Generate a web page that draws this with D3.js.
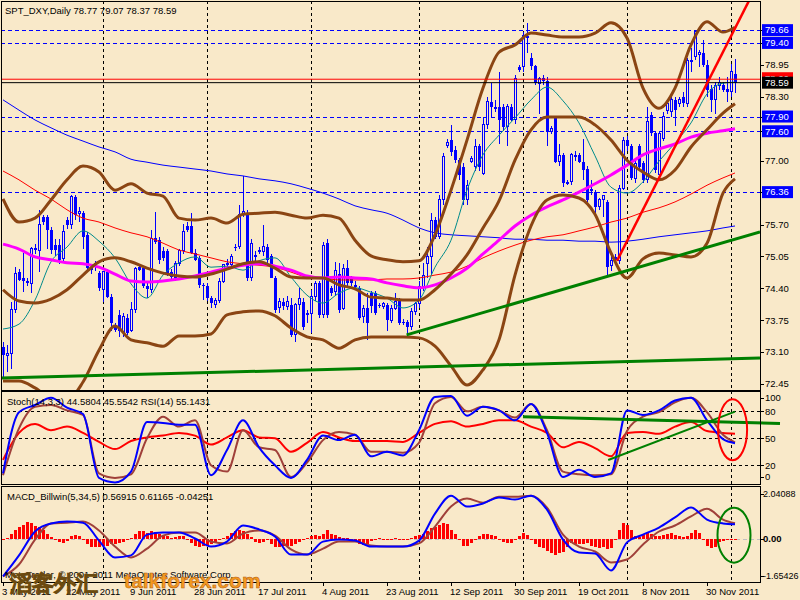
<!DOCTYPE html>
<html><head><meta charset="utf-8">
<script src="https://cdn.jsdelivr.net/npm/d3@7"></script>
<style>
body{margin:0;background:#F9E9C9;}
svg{display:block;}
text{font-family:"Liberation Sans",Arial,sans-serif;}
</style>
</head><body>
<svg id="c" width="800" height="600"></svg>
<script>
// ---------------- DATA ----------------
const chartTitle = "SPT_DXY,Daily";
const lastOHLC = [78.77, 79.07, 78.37, 78.59];
const firstDate = [2011, 4, 3]; // 3 May 2011, daily bars, Saturdays skipped

const opens = [73.21,73.04,73.08,73.96,74.74,74.61,74.54,74.50,75.22,75.18,75.86,75.86,75.59,75.29,75.29,75.01,75.79,75.69,76.27,75.93,
75.93,75.49,74.84,74.84,74.71,74.37,74.74,74.23,73.62,73.86,73.49,73.80,73.55,73.96,74.84,74.81,74.44,74.37,75.42,75.39,
75.15,75.15,74.74,74.61,74.91,75.18,75.66,75.66,75.12,75.01,74.47,74.44,74.20,74.06,74.16,74.54,74.88,74.88,75.25,75.25,
75.93,75.93,74.61,75.08,75.15,75.15,75.25,75.05,74.61,74.00,74.13,74.03,74.06,73.45,74.06,74.13,73.89,73.89,74.23,74.50,
73.86,75.32,74.40,74.33,74.70,73.99,74.81,74.60,74.46,74.40,73.82,73.99,74.30,74.30,74.06,74.03,74.06,73.75,73.99,74.16,
73.72,73.72,73.62,73.92,74.09,74.43,74.91,75.04,75.79,75.45,76.20,77.30,77.42,77.22,77.01,76.88,76.20,76.98,76.88,77.29,
76.74,77.73,78.20,78.10,78.10,78.10,77.69,78.10,77.83,78.90,78.92,79.55,79.09,78.92,78.58,78.68,78.63,77.59,77.86,76.98,
77.12,76.55,76.57,77.12,77.12,76.98,76.84,76.40,76.37,76.06,76.20,76.16,74.87,75.04,74.97,76.44,77.42,77.29,76.64,77.29,
76.95,76.61,77.93,77.56,76.71,77.46,78.03,78.00,78.24,78.17,78.30,78.17,79.05,79.12,79.17,79.19,78.95,78.47,78.24,78.54,
78.54,78.47,78.40,78.77];
const highs = [73.30,73.25,74.13,74.84,74.80,75.12,74.62,75.25,75.30,76.00,75.90,75.90,75.65,75.40,75.40,75.70,75.85,76.30,76.30,76.05,
75.97,75.55,74.90,74.95,74.75,74.75,74.80,74.28,73.70,73.95,73.90,73.88,74.13,74.84,74.90,74.85,74.50,75.59,75.96,75.45,
75.25,75.20,74.80,74.95,75.20,75.72,75.75,75.93,75.20,75.05,74.50,74.50,74.25,74.20,74.60,74.90,75.00,75.10,75.30,76.10,
76.69,76.00,75.40,75.15,75.25,75.69,75.30,75.10,74.65,74.20,74.20,74.25,74.20,74.10,74.40,74.20,73.95,74.37,74.55,74.55,
75.35,75.40,74.45,74.94,74.91,74.90,74.98,74.65,74.55,74.45,74.05,74.30,74.35,74.35,74.10,74.12,74.10,74.05,74.30,74.20,
73.78,73.75,73.99,74.12,74.55,74.91,75.25,75.93,75.85,76.30,77.15,77.45,77.73,77.30,77.05,76.95,76.60,77.10,77.45,77.35,
77.90,78.30,78.58,78.24,78.81,78.15,78.15,78.15,78.75,78.95,79.62,79.80,79.20,78.95,78.70,78.75,78.70,77.70,77.90,77.35,
77.15,76.60,77.15,77.20,77.15,77.45,76.90,76.60,76.40,76.25,76.30,76.20,75.05,75.10,76.50,77.48,77.50,77.35,77.05,77.35,
77.00,78.10,78.00,77.60,77.60,78.00,78.20,78.34,78.30,78.30,78.40,79.10,79.30,79.67,79.25,79.46,79.05,78.55,78.60,78.70,
78.60,78.71,78.98,79.07];
const lows = [72.60,72.70,72.75,73.90,74.55,74.33,74.45,74.30,75.10,74.74,75.70,75.20,75.10,75.05,74.90,74.95,75.60,75.60,75.80,75.75,
75.20,74.75,74.70,74.75,74.35,74.13,74.20,73.52,73.50,73.40,73.40,73.45,73.50,73.90,74.75,74.40,74.20,74.30,75.30,74.90,
74.95,74.65,74.55,74.55,74.85,75.10,75.55,75.10,74.95,74.40,74.16,74.15,74.00,74.00,74.10,74.50,74.80,74.80,75.15,75.20,
75.85,74.55,74.55,74.95,75.10,75.05,74.90,74.60,73.90,73.90,73.95,73.95,73.40,73.30,73.95,73.55,73.70,73.48,74.15,73.80,
73.80,73.80,74.25,74.25,73.90,73.95,74.45,74.45,74.40,73.75,73.69,73.35,73.90,73.85,74.00,73.98,73.52,73.70,73.95,73.65,
73.65,73.45,73.55,73.85,74.00,74.35,74.60,74.67,75.40,75.40,76.10,77.25,77.10,76.95,76.60,76.10,76.10,76.95,76.80,76.80,
76.70,77.65,77.90,78.00,77.35,77.60,77.30,77.80,77.75,78.80,78.80,79.20,78.85,78.55,77.95,78.55,77.30,77.55,76.95,76.90,
76.46,76.50,76.50,77.00,76.95,76.60,76.15,76.30,75.90,76.00,75.85,74.67,74.75,74.90,74.90,76.40,77.20,76.60,76.55,76.80,
76.55,76.55,77.50,76.75,76.65,77.40,77.95,77.90,77.70,78.10,78.10,78.10,78.80,79.05,78.90,78.90,78.30,78.00,77.96,78.45,
78.40,78.20,78.30,78.37];
const closes = [73.04,73.08,73.96,74.71,74.57,74.54,74.50,75.22,75.18,75.69,75.76,75.59,75.18,75.18,74.98,75.56,75.69,76.27,75.90,75.96,
75.45,74.81,74.78,74.91,74.40,74.74,74.23,73.69,73.55,73.52,73.83,73.49,73.96,74.81,74.78,74.44,74.38,75.42,75.35,74.98,
75.01,74.71,74.64,74.91,75.18,75.56,75.59,75.12,74.98,74.47,74.44,74.20,74.10,74.16,74.54,74.88,74.91,75.05,75.22,75.90,
75.96,74.61,75.32,75.03,75.18,75.25,74.98,74.61,73.96,74.13,74.03,74.13,73.45,74.06,74.20,73.62,73.85,74.23,74.50,73.86,
75.28,73.86,74.30,74.77,73.96,74.81,74.50,74.50,74.43,73.79,73.99,73.69,74.03,73.89,74.04,74.09,73.75,73.99,74.13,73.69,
73.69,73.62,73.92,74.09,74.43,74.67,75.04,75.79,75.45,76.20,77.08,77.38,77.18,77.01,76.71,76.20,76.50,77.04,77.29,76.88,
77.73,78.20,78.10,78.05,77.83,77.69,78.10,77.83,78.68,78.85,79.55,79.50,78.92,78.58,78.68,78.63,77.59,77.65,76.98,77.10,
76.54,76.56,77.12,77.08,76.98,76.81,76.20,76.42,76.06,76.20,76.30,74.84,74.97,74.98,76.44,77.42,77.29,76.64,76.95,76.88,
76.61,77.79,77.56,76.81,77.56,77.90,78.17,78.24,78.03,78.24,78.17,79.05,79.02,79.63,79.20,78.95,78.44,78.24,78.54,78.60,
78.44,78.40,78.81,78.59];

// indicator lines, read every 4th bar (bars 0,4,...,180 and the last bar 183)
const maFast   = [73.57,73.67,74.16,74.94,75.24,75.57,75.36,75.02,74.49,74.20,74.67,74.92,75.04,74.83,74.85,74.77,74.96,75.02,74.63,74.26,74.10,74.30,74.41,74.32,74.20,74.00,74.16,74.83,75.38,76.40,77.12,77.52,77.87,78.24,78.50,78.22,77.77,77.10,76.46,76.34,76.57,76.99,77.36,77.77,78.36,78.58,78.60];
const maMid    = [75.30,75.20,75.04,74.98,74.92,74.90,74.83,74.69,74.55,74.53,74.55,74.59,74.65,74.73,74.81,74.87,74.90,74.85,74.77,74.65,74.61,74.63,74.61,74.59,74.51,74.45,74.41,74.47,74.61,74.81,75.10,75.38,75.67,75.89,76.06,76.20,76.36,76.53,76.71,76.91,77.12,77.24,77.34,77.48,77.56,77.61,77.65];
const maSlow   = [76.79,76.61,76.40,76.22,76.00,75.83,75.75,75.63,75.53,75.45,75.32,75.18,75.10,75.02,74.94,74.90,74.87,74.83,74.73,74.63,74.61,74.57,74.57,74.57,74.59,74.59,74.61,74.67,74.73,74.85,75.02,75.16,75.28,75.38,75.45,75.49,75.57,75.65,75.75,75.83,75.95,76.04,76.16,76.32,76.50,76.65,76.75];
const maLong   = [78.24,78.03,77.83,77.67,77.52,77.40,77.28,77.18,77.03,76.97,76.91,76.87,76.83,76.79,76.73,76.69,76.63,76.59,76.53,76.44,76.34,76.22,76.08,76.00,75.93,75.79,75.63,75.53,75.49,75.47,75.45,75.43,75.40,75.40,75.38,75.38,75.36,75.36,75.34,75.36,75.40,75.45,75.49,75.53,75.57,75.63,75.67];
const bbUpper  = [76.22,75.75,75.83,76.20,76.61,76.89,76.77,76.40,76.53,76.34,76.28,75.83,75.79,75.83,75.73,75.91,75.93,75.95,75.89,75.83,75.89,75.83,75.38,75.06,74.98,74.94,74.96,75.49,76.40,77.42,78.48,79.21,79.36,79.60,79.56,79.52,79.52,79.60,79.81,79.50,78.48,78.07,78.48,79.36,79.83,79.62,79.72];
const bbMiddle = [74.37,74.14,74.10,74.18,74.37,74.67,74.94,75.02,74.94,74.81,74.71,74.65,74.63,74.69,74.79,74.90,74.94,74.81,74.63,74.61,74.61,74.47,74.39,74.22,74.20,74.16,74.16,74.37,74.69,75.08,75.63,76.18,77.01,77.63,77.89,77.89,77.89,77.73,77.42,77.01,76.77,76.61,76.81,77.28,77.63,77.97,78.16];
const bbLower  = [72.51,72.51,72.37,72.16,72.12,72.49,73.14,73.63,73.35,73.29,73.22,73.43,73.43,73.47,73.86,73.92,73.94,73.84,73.59,73.41,73.35,73.18,73.35,73.41,73.41,73.41,73.39,73.22,72.82,72.43,72.74,73.35,74.67,75.67,76.20,76.30,76.24,75.91,75.12,74.61,75.00,75.12,75.08,75.04,75.32,76.34,76.63];
const stochK   = [11,79,87,95,84,77,6,1,13,68,67,65,65,9,37,70,40,20,6,26,53,48,54,30,35,31,59,96,97,75,85,81,70,88,56,7,15,7,11,81,76,81,92,95,70,49,44.58];
const stochD   = [9,61,85,87,81,76,11,6,10,50,74,63,70,20,13,59,40,37,7,23,48,57,54,35,35,34,45,89,96,80,85,81,73,88,59,13,10,9,10,58,74,79,90,95,79,54,45.55];
const rsi      = [26,56,66,59,63,56,46,38,47,51,53,56,53,43,51,59,51,50,35,45,57,51,47,47,47,46,56,66,69,63,66,70,70,63,56,40,46,39,30,56,57,55,63,68,58,56,55.14];
const macdLine = [-1.44,-0.63,0.29,0.60,0.67,0.63,-0.06,-0.71,-0.63,0.17,0.25,0.25,0.02,-0.29,-0.10,0.52,0.37,0.10,-0.60,-0.60,-0.10,-0.02,-0.06,-0.29,-0.29,-0.29,-0.06,0.98,1.67,1.25,1.37,1.60,1.52,1.67,1.13,-0.02,-0.52,-0.56,-1.21,-0.13,0.17,0.44,0.83,1.21,0.75,0.60,0.57];
const macdSignal=[-1.44,-0.98,-0.02,0.60,0.63,0.67,0.33,-0.29,-0.71,-0.37,0.13,0.25,0.25,-0.10,-0.17,0.21,0.33,0.13,-0.40,-0.60,-0.37,-0.10,-0.10,-0.25,-0.29,-0.29,-0.17,0.48,1.25,1.56,1.40,1.63,1.63,1.67,1.21,0.17,-0.29,-0.48,-0.90,-0.79,-0.21,0.29,0.52,0.87,1.17,0.75,0.61];
const macdHist = [0.00,0.05,0.20,0.35,0.45,0.55,0.65,0.60,0.50,0.45,0.35,0.20,0.08,-0.05,-0.12,-0.15,-0.08,0.10,0.17,0.12,
-0.05,-0.20,-0.30,-0.32,-0.30,-0.28,-0.25,-0.20,-0.20,-0.15,-0.10,-0.03,0.05,0.20,0.30,0.32,0.25,0.30,0.28,0.20,
0.15,0.10,0.05,0.08,0.12,0.10,-0.05,-0.15,-0.25,-0.30,-0.28,-0.25,-0.20,-0.15,-0.05,0.05,0.10,0.25,0.30,0.35,
0.32,0.20,0.08,-0.10,-0.15,-0.12,-0.05,-0.20,-0.30,-0.32,-0.28,-0.25,-0.28,-0.20,-0.10,-0.02,0.05,0.10,0.15,0.10,
0.20,0.34,0.20,0.15,0.08,0.05,0.03,-0.02,-0.10,-0.20,-0.22,-0.18,-0.08,-0.02,0.03,-0.02,0.02,-0.03,0.03,-0.04,
-0.03,0.02,0.05,0.12,0.15,0.18,0.30,0.42,0.45,0.55,0.62,0.58,0.35,0.20,0.00,-0.25,-0.28,-0.15,0.00,0.10,
0.20,0.20,0.15,0.10,0.00,-0.12,-0.17,-0.15,0.00,0.10,0.23,0.15,0.00,-0.20,-0.30,-0.35,-0.45,-0.55,-0.60,-0.55,
-0.50,-0.30,-0.15,-0.20,-0.18,-0.20,-0.15,-0.25,-0.30,-0.35,-0.30,-0.38,-0.35,-0.05,0.35,0.62,0.55,0.35,0.12,0.08,
0.15,0.24,0.20,0.10,0.12,0.15,0.20,0.22,0.15,0.10,0.06,0.12,0.22,0.33,0.22,0.00,-0.25,-0.34,-0.30,-0.10,
-0.08,-0.05,-0.03,-0.04];

const levelLines = [79.66, 79.40, 77.90, 77.60, 76.36];
const askPrice = 78.66;
const mainTicks = [78.95, 78.30, 77.00, 75.70, 75.05, 74.40, 73.75, 73.10, 72.45];
const stochTicks = [100, 80, 50, 20, 0];
const stochLevels = [80, 50, 20];
const macdTicks = [2.04088, 0, -1.65426];
const xTickLabels = ["3 May 2011","22 May 2011","9 Jun 2011","28 Jun 2011","17 Jul 2011","4 Aug 2011","23 Aug 2011","12 Sep 2011","30 Sep 2011","19 Oct 2011","8 Nov 2011","30 Nov 2011"];
// hand-drawn trend lines: [bar1, value1, bar2, value2]
const mainGreenLines = [[-0.75,72.57,189.25,72.98],[100.9,73.45,189.25,75.55]];
const mainRedLine = [153.5,74.96,187,80.34];
const stochGreenLines = [[130,74,194.25,66.4,3],[151.3,25.9,183,79.6,2]];
const stochEllipse = [182.4, 59.6];   // bar, value
const macdEllipse = [182.75, 0.15];

const stochTitle = "Stoch(14,3,3) 44.5804 45.5542  RSI(14) 55.1431";
const macdTitle = "MACD_Billwin(5,34,5) 0.56915 0.61165 -0.04251";
const copyright = "MetaTrader, © 2001-2011 MetaQuotes Software Corp.";

// ---------------- DRAW ----------------
const bg = "#F9E9C9";
const svg = d3.select("#c");
svg.append("rect").attr("width",800).attr("height",600).attr("fill",bg);

const nBars = closes.length;
const dates = [];
{ let d = new Date(firstDate[0], firstDate[1], firstDate[2]);
  while (dates.length < nBars) { if (d.getDay() !== 6) dates.push(new Date(d)); d.setDate(d.getDate()+1); } }

const right = 760;
const x = d3.scaleLinear().domain([0, nBars-1]).range([3, 735]);
const yM = d3.scaleLinear().domain([72.45, 78.95]).range([384, 65]);
const yS = d3.scaleLinear().domain([0, 100]).range([483.3, 393.3]);
const yD = d3.scaleLinear().domain([-1.65426, 2.04088]).range([582, 486]);
const sampleIdx = d3.range(0, nBars, 4).concat([nBars-1]);

const defs = svg.append("defs");
function clip(id, x0, y0, w, h){ defs.append("clipPath").attr("id",id).append("rect").attr("x",x0).attr("y",y0).attr("width",w).attr("height",h); }
clip("cm",1,1,right-1,389); clip("cs",1,391,right-1,93); clip("cd",1,486,right-1,96);

// month grid lines
const monthStarts = d3.range(1,nBars).filter(i => dates[i].getMonth() !== dates[i-1].getMonth());
svg.append("g").selectAll("line").data(monthStarts).join("line")
  .attr("x1", i => Math.round(x(i))+0.5).attr("x2", i => Math.round(x(i))+0.5)
  .attr("y1", 1).attr("y2", 582).attr("stroke","#000").attr("stroke-dasharray","3,3").attr("stroke-width",1);

// ---- main panel ----
const gm = svg.append("g").attr("clip-path","url(#cm)");
gm.selectAll("line.lv").data(levelLines).join("line").attr("class","lv")
  .attr("x1",1).attr("x2",right).attr("y1",d=>Math.round(yM(d))+0.5).attr("y2",d=>Math.round(yM(d))+0.5)
  .attr("stroke","#0000FF").attr("stroke-dasharray","4,3");
// candles
const cg = gm.append("g").attr("shape-rendering","crispEdges");
d3.range(nBars).forEach(i => {
  const xc = Math.round(x(i));
  cg.append("line").attr("x1",xc+0.5).attr("x2",xc+0.5).attr("y1",yM(highs[i])).attr("y2",yM(lows[i])).attr("stroke","#0000FF");
  const top = yM(Math.max(opens[i],closes[i])), bot = yM(Math.min(opens[i],closes[i]));
  const bull = closes[i] > opens[i];
  if (bull) cg.append("rect").attr("x",xc-0.5).attr("y",top).attr("width",2).attr("height",Math.max(1,bot-top)).attr("fill",bg).attr("stroke","#0000FF");
  else cg.append("rect").attr("x",xc-1).attr("y",top).attr("width",3).attr("height",Math.max(1,bot-top)).attr("fill","#0000FF");
});
function sLine(arr, yScale){
  return d3.line().x((d,k)=>x(sampleIdx[k])).y(d=>yScale(d)).curve(d3.curveMonotoneX)(arr);
}
function drawLine(g, arr, yScale, color, w){ g.append("path").attr("d", sLine(arr,yScale)).attr("fill","none").attr("stroke",color).attr("stroke-width",w).attr("stroke-linejoin","round"); }
drawLine(gm, maLong, yM, "#0000FF", 1);
drawLine(gm, maSlow, yM, "#FF0000", 1);
drawLine(gm, maFast, yM, "#008B8B", 1);
drawLine(gm, maMid, yM, "#FF00FF", 3);
drawLine(gm, bbUpper, yM, "#8B4513", 3);
drawLine(gm, bbMiddle, yM, "#8B4513", 3);
drawLine(gm, bbLower, yM, "#8B4513", 3);
gm.append("line").attr("x1",1).attr("x2",right).attr("y1",yM(askPrice)).attr("y2",yM(askPrice)).attr("stroke","#FF0000");
gm.append("line").attr("x1",1).attr("x2",right).attr("y1",yM(lastOHLC[3])).attr("y2",yM(lastOHLC[3])).attr("stroke","#000");
mainGreenLines.forEach(l => gm.append("line").attr("x1",x(l[0])).attr("y1",yM(l[1])).attr("x2",x(l[2])).attr("y2",yM(l[3])).attr("stroke","#008000").attr("stroke-width",3));
gm.append("line").attr("x1",x(mainRedLine[0])).attr("y1",yM(mainRedLine[1])).attr("x2",x(mainRedLine[2])).attr("y2",yM(mainRedLine[3])).attr("stroke","#FF0000").attr("stroke-width",2.5);

// ---- stoch panel ----
const gs = svg.append("g").attr("clip-path","url(#cs)");
gs.selectAll("line.lv").data(stochLevels).join("line").attr("x1",1).attr("x2",right)
  .attr("y1",d=>Math.round(yS(d))+0.5).attr("y2",d=>Math.round(yS(d))+0.5).attr("stroke","#000").attr("stroke-dasharray","3,3");
drawLine(gs, rsi, yS, "#FF0000", 2);
drawLine(gs, stochD, yS, "#A0403A", 2);
drawLine(gs, stochK, yS, "#0000FF", 2);
stochGreenLines.forEach(l => svg.append("line").attr("x1",x(l[0])).attr("y1",yS(l[1])).attr("x2",x(l[2])).attr("y2",yS(l[3])).attr("stroke","#008000").attr("stroke-width",l[4]));
svg.append("ellipse").attr("cx",x(stochEllipse[0])).attr("cy",yS(stochEllipse[1])).attr("rx",14.5).attr("ry",30.5).attr("fill","none").attr("stroke","#FF0000").attr("stroke-width",2);

// ---- macd panel ----
const gd = svg.append("g").attr("clip-path","url(#cd)");
gd.append("line").attr("x1",1).attr("x2",right).attr("y1",Math.round(yD(0))+0.5).attr("y2",Math.round(yD(0))+0.5).attr("stroke","#C0C0C0").attr("stroke-dasharray","4,3");
gd.append("g").attr("shape-rendering","crispEdges").selectAll("rect").data(macdHist).join("rect")
  .attr("x",(d,i)=>Math.round(x(i))-1).attr("width",3)
  .attr("y",d=>Math.min(yD(0),yD(d))).attr("height",d=>Math.max(1,Math.abs(yD(d)-yD(0))))
  .attr("fill","#FF0000");
drawLine(gd, macdSignal, yD, "#A0403A", 2);
drawLine(gd, macdLine, yD, "#0000FF", 2);
svg.append("ellipse").attr("cx",x(macdEllipse[0])).attr("cy",yD(macdEllipse[1])).attr("rx",16.5).attr("ry",27.5).attr("fill","none").attr("stroke","#008000").attr("stroke-width",2);

// ---- frames ----
const fr = svg.append("g").attr("fill","none").attr("stroke","#000").attr("shape-rendering","crispEdges");
fr.append("rect").attr("x",1.5).attr("y",1.5).attr("width",right-1.5).attr("height",388.5);
fr.append("rect").attr("x",1.5).attr("y",391.5).attr("width",right-1.5).attr("height",92.5);
fr.append("rect").attr("x",1.5).attr("y",486.5).attr("width",right-1.5).attr("height",95.5);

// ---- right axis labels ----
const ax = svg.append("g").attr("font-size","9.5px");
function tick(y){ ax.append("line").attr("x1",right).attr("x2",right+4).attr("y1",Math.round(y)+0.5).attr("y2",Math.round(y)+0.5).attr("stroke","#000"); }
mainTicks.forEach(v => { tick(yM(v)); ax.append("text").attr("x",765).attr("y",yM(v)).attr("dy","0.35em").text(v.toFixed(2)); });
levelLines.forEach(v => { const y=yM(v); tick(y);
  ax.append("rect").attr("x",762).attr("y",y-6).attr("width",31).attr("height",12).attr("fill","#0000FF");
  ax.append("text").attr("x",765).attr("y",y).attr("dy","0.35em").attr("fill","#fff").text(v.toFixed(2)); });
{ const y=yM(askPrice); ax.append("rect").attr("x",762).attr("y",y-7).attr("width",31).attr("height",12).attr("fill","#FF0000");
  ax.append("text").attr("x",765).attr("y",y-1).attr("dy","0.35em").attr("fill","#fff").text(askPrice.toFixed(2));
  const y2=yM(lastOHLC[3]); ax.append("rect").attr("x",762).attr("y",y2-6).attr("width",31).attr("height",12).attr("fill","#000");
  ax.append("text").attr("x",765).attr("y",y2).attr("dy","0.35em").attr("fill","#fff").text(lastOHLC[3].toFixed(2)); }
stochTicks.forEach(v => { const y = Math.max(398, Math.min(477, yS(v))); tick(y);
  ax.append("text").attr("x",765).attr("y",y).attr("dy","0.35em").text(v); });
macdTicks.forEach((v,k) => { const y = Math.max(494, Math.min(576, yD(v))); tick(y);
  ax.append("text").attr("x",763).attr("y",y).attr("dy","0.35em").attr("font-size", k===1?"9.5px":"9px")
    .attr("font-weight", k===1?"bold":null).text(k===1 ? "0.00" : String(v)); });

// ---- x axis ----
const xt = svg.append("g").attr("font-size","9.5px");
xTickLabels.forEach((lab,k) => { const i = k*16; const xx = Math.round(x(i));
  xt.append("line").attr("x1",xx+0.5).attr("x2",xx+0.5).attr("y1",582).attr("y2",586).attr("stroke","#000");
  xt.append("text").attr("x",xx-1).attr("y",595).text(lab); });

// ---- titles ----
svg.append("text").attr("x",5).attr("y",14).attr("font-size","9.5px").text(chartTitle + "  " + lastOHLC.map(v=>v.toFixed(2)).join(" "));
svg.append("text").attr("x",7).attr("y",405).attr("font-size","9.5px").text(stochTitle);
svg.append("text").attr("x",7).attr("y",500).attr("font-size","9.5px").text(macdTitle);
svg.append("text").attr("x",5).attr("y",578).attr("font-size","9.5px").text(copyright);
svg.append("text").attr("x",10).attr("y",591).attr("font-family","Noto Sans CJK SC").attr("font-size","22px").attr("font-weight","bold")
  .attr("fill","#F0C030").attr("stroke","#6B4A10").attr("stroke-width",0.8).text("滔客外汇");
svg.append("text").attr("x",124).attr("y",588).attr("font-size","21px").attr("font-weight","bold")
  .attr("fill","#F59A20").attr("stroke","#B05A10").attr("stroke-width",0.5).text("talkforex.com");
</script>
</body></html>
